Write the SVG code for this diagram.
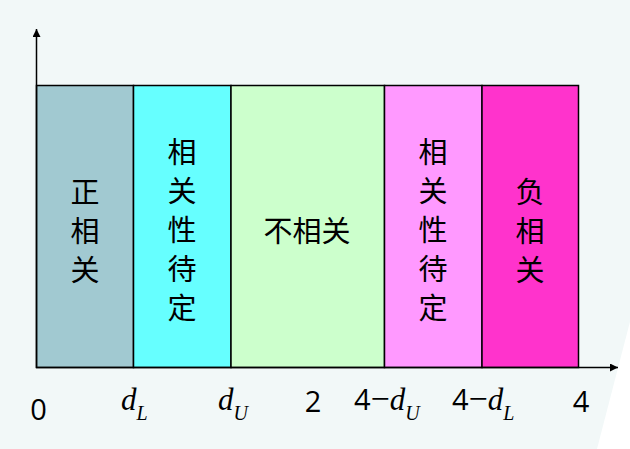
<svg xmlns="http://www.w3.org/2000/svg" width="630" height="449" viewBox="0 0 630 449">
<style>
.cell{stroke:#000;stroke-width:1.5}
.cjk{font-family:"Noto Sans CJK SC","Noto Sans",sans-serif;font-size:29px;fill:#000;text-anchor:middle}
.num{font-family:"Open Sans","Noto Sans",sans-serif;font-size:29px;fill:#000}
.it{font-family:"Liberation Serif",serif;font-style:italic;fill:#000}
.mi{font-family:"Liberation Serif",serif;font-size:34px;fill:#000}
.ax{stroke:#000;stroke-width:1.5;fill:none}
</style>
<defs>
<marker id="ah" viewBox="0 0 10 10" refX="10" refY="5" markerWidth="8" markerHeight="8" markerUnits="userSpaceOnUse" orient="auto">
<path d="M0,0 L10,5 L0,10 z" fill="#000"/>
</marker>
</defs>
<rect width="630" height="449" fill="#F2F8F8"/>
<polygon points="631,318 631,449 597,449" fill="#FFFFFF"/>
<g id="n1"><rect class="cell" x="36.5" y="85.5" width="97" height="282" fill="#A1C9D1"/>
<text class="cjk"><tspan x="85" y="203">正</tspan><tspan x="85" y="242">相</tspan><tspan x="85" y="281">关</tspan></text></g>
<g id="n2"><rect class="cell" x="133.5" y="85.5" width="97.5" height="282" fill="#66FFFF"/>
<text class="cjk"><tspan x="182" y="163">相</tspan><tspan x="182" y="202">关</tspan><tspan x="182" y="241">性</tspan><tspan x="182" y="280">待</tspan><tspan x="182" y="319">定</tspan></text></g>
<g id="n3"><rect class="cell" x="231" y="85.5" width="153.5" height="282" fill="#CCFFCC"/>
<text class="cjk" x="307" y="242">不相关</text></g>
<g id="n4"><rect class="cell" x="384.5" y="85.5" width="97.5" height="282" fill="#FF99FF"/>
<text class="cjk"><tspan x="433" y="163">相</tspan><tspan x="433" y="202">关</tspan><tspan x="433" y="241">性</tspan><tspan x="433" y="280">待</tspan><tspan x="433" y="319">定</tspan></text></g>
<g id="n5"><rect class="cell" x="482" y="85.5" width="96.5" height="282" fill="#FF33CC"/>
<text class="cjk"><tspan x="530" y="203">负</tspan><tspan x="530" y="242">相</tspan><tspan x="530" y="281">关</tspan></text></g>
<g id="connectors">
<line class="ax" x1="36.5" y1="368" x2="36.5" y2="29" marker-end="url(#ah)"/>
<line class="ax" x1="36" y1="367.5" x2="618" y2="367.5" marker-end="url(#ah)"/>
</g>
<g id="labels">
<text class="num" x="38.5" y="420" text-anchor="middle">0</text>
<text x="121" y="410"><tspan class="it" font-size="31">d</tspan><tspan class="it" font-size="20" dy="10">L</tspan></text>
<text x="218" y="410"><tspan class="it" font-size="31">d</tspan><tspan class="it" font-size="20" dy="10">U</tspan></text>
<text class="num" x="313" y="412" text-anchor="middle">2</text>
<text x="354" y="410"><tspan class="num">4</tspan><tspan class="mi">−</tspan><tspan class="it" font-size="31">d</tspan><tspan class="it" font-size="20" dy="10">U</tspan></text>
<text x="452" y="410"><tspan class="num">4</tspan><tspan class="mi">−</tspan><tspan class="it" font-size="31">d</tspan><tspan class="it" font-size="20" dy="10">L</tspan></text>
<text class="num" x="581" y="412" text-anchor="middle">4</text>
</g>
</svg>
